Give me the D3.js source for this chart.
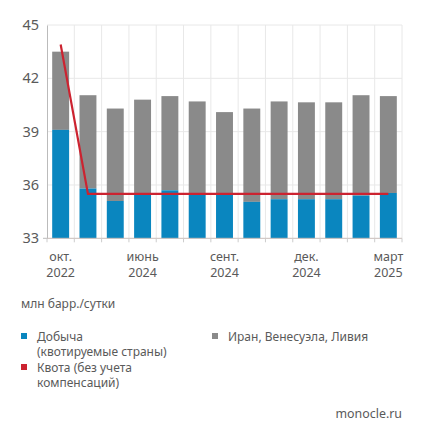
<!DOCTYPE html>
<html>
<head>
<meta charset="utf-8">
<script src="https://cdn.jsdelivr.net/npm/d3@7.9.0/dist/d3.min.js"></script>
<style>
  body { margin: 0; background: #fff; }
  text { font-family: "Noto Sans", sans-serif; fill: #5a5a5a; }
</style>
</head>
<body>
<div id="chart"></div>
<script>
// months, only some get a label
const months = ["окт. 2022", "апр. 2024", "май 2024", "июнь 2024", "июль 2024", "авг. 2024",
  "сент. 2024", "окт. 2024", "нояб. 2024", "дек. 2024", "янв. 2025", "февр. 2025", "март 2025"];
const tickMonths = ["окт. 2022", "июнь 2024", "сент. 2024", "дек. 2024", "март 2025"];

const production = [39.1, 35.8, 35.1, 35.45, 35.7, 35.45, 35.45, 35.05, 35.2, 35.2, 35.2, 35.4, 35.55];
const totalWithExempt = [43.5, 41.05, 40.3, 40.8, 41.0, 40.7, 40.1, 40.3, 40.7, 40.65, 40.65, 41.05, 41.0];
const quota = [43.9, 35.5, 35.5, 35.5, 35.5, 35.5, 35.5, 35.5, 35.5, 35.5, 35.5, 35.5, 35.5];
const yTicks = [33, 36, 39, 42, 45];

const width = 424, height = 439;
const blue = "#0a86bf", grey = "#8a8a8a", red = "#cc2330";

const svg = d3.select("#chart").append("svg")
    .attr("width", width)
    .attr("height", height);

const x = d3.scaleBand()
    .domain(months)
    .range([47, 402])
    .paddingInner(0.38)
    .paddingOuter(0.19);

const y = d3.scaleLinear()
    .domain([33, 45])
    .range([238.3, 25]);

// band boundaries for vertical grid
const step = x.step();
const bounds = d3.range(months.length + 1).map(i => 47 + i * step);

svg.append("g")
    .selectAll("line")
    .data(bounds.slice(1))
    .enter()
    .append("line")
    .attr("x1", d => d).attr("x2", d => d)
    .attr("y1", y(45)).attr("y2", y(33))
    .attr("stroke", "#e8e8e8");

svg.append("g")
    .selectAll("line")
    .data(yTicks.slice(1))
    .enter()
    .append("line")
    .attr("x1", 47).attr("x2", 402)
    .attr("y1", d => y(d)).attr("y2", d => y(d))
    .attr("stroke", "#e8e8e8");

// grey stacked part
svg.append("g")
    .selectAll("rect")
    .data(months)
    .enter()
    .append("rect")
    .attr("x", d => x(d))
    .attr("width", x.bandwidth())
    .attr("y", (d, i) => y(totalWithExempt[i]))
    .attr("height", (d, i) => y(production[i]) - y(totalWithExempt[i]))
    .attr("fill", grey);

svg.append("g")
    .selectAll("rect")
    .data(months)
    .enter()
    .append("rect")
    .attr("x", d => x(d))
    .attr("width", x.bandwidth())
    .attr("y", (d, i) => y(production[i]))
    .attr("height", (d, i) => y(33) - y(production[i]))
    .attr("fill", blue);

// axes
const yAxis = svg.append("g")
    .attr("transform", "translate(47,0)")
    .call(d3.axisLeft(y).tickValues(yTicks).tickSize(0).tickPadding(8));
yAxis.select(".domain").attr("stroke", "#bbb");
yAxis.selectAll("text")
    .style("font-size", "14.5px")
    .attr("fill", "#5a5a5a");

svg.append("line")
    .attr("x1", 43).attr("x2", 47)
    .attr("y1", y(33)).attr("y2", y(33))
    .attr("stroke", "#bbb");

svg.append("line")
    .attr("x1", 47).attr("x2", 402)
    .attr("y1", y(33)).attr("y2", y(33))
    .attr("stroke", "#c8bcb8");

svg.append("g")
    .selectAll("line")
    .data(bounds)
    .enter()
    .append("line")
    .attr("x1", d => d).attr("x2", d => d)
    .attr("y1", y(33)).attr("y2", y(33) + 4)
    .attr("stroke", "#ccc");

const xLabels = svg.append("g")
    .selectAll("g")
    .data(tickMonths)
    .enter()
    .append("g")
    .attr("transform", d => `translate(${x(d) + x.bandwidth() / 2},0)`);
xLabels.append("text")
    .attr("text-anchor", "middle")
    .attr("y", 261)
    .style("font-size", "12.5px")
    .text(d => d.split(" ")[0]);
xLabels.append("text")
    .attr("text-anchor", "middle")
    .attr("y", 277)
    .style("font-size", "12.5px")
    .text(d => d.split(" ")[1]);

// quota line
const line = d3.line()
    .x((d, i) => x(months[i]) + x.bandwidth() / 2)
    .y(d => y(d));

svg.append("path")
    .datum(quota)
    .attr("d", line)
    .attr("fill", "none")
    .attr("stroke", red)
    .attr("stroke-width", 2.2);

// unit + legend
svg.append("text")
    .attr("x", 21).attr("y", 308)
    .style("font-size", "12px")
    .text("млн барр./сутки");

const legend = [
  { color: blue, x: 21, y: 336, lines: ["Добыча", "(квотируемые страны)"] },
  { color: red, x: 21, y: 367, lines: ["Квота (без учета", "компенсаций)"] },
  { color: grey, x: 212, y: 336, lines: ["Иран, Венесуэла, Ливия"] }
];

const items = svg.append("g")
    .selectAll("g")
    .data(legend)
    .enter()
    .append("g")
    .attr("transform", d => `translate(${d.x},${d.y})`);

items.append("rect")
    .attr("x", 0).attr("y", -3)
    .attr("width", 6).attr("height", 6)
    .attr("fill", d => d.color);

items.selectAll("text")
    .data(d => d.lines)
    .enter()
    .append("text")
    .attr("x", 16)
    .attr("y", (d, i) => 4.5 + i * 15.3)
    .style("font-size", "12px")
    .text(d => d);

svg.append("text")
    .attr("x", 402).attr("y", 418)
    .attr("text-anchor", "end")
    .style("font-size", "12.4px")
    .text("monocle.ru");
</script>
</body>
</html>
